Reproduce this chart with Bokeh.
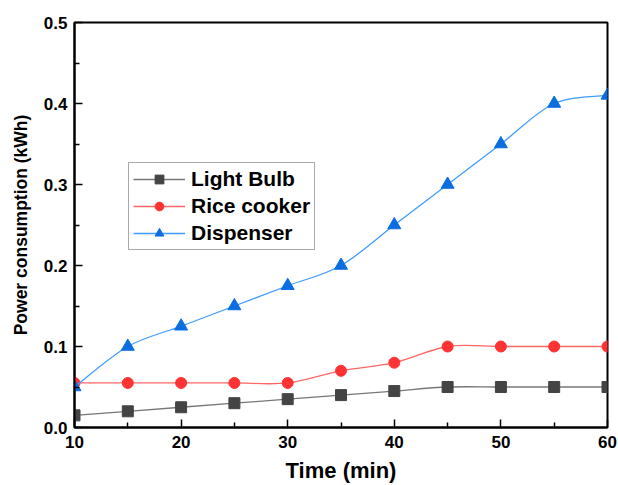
from bokeh.plotting import figure
from bokeh.models import Range1d, Legend, LegendItem, FixedTicker
from bokeh.embed import file_html
from bokeh.resources import INLINE

time_min = [10, 15, 20, 25, 30, 35, 40, 45, 50, 55, 60]
light_bulb = [0.015, 0.02, 0.025, 0.03, 0.035, 0.04, 0.045, 0.05, 0.05, 0.05, 0.05]
rice_cooker = [0.055, 0.055, 0.055, 0.055, 0.055, 0.07, 0.08, 0.1, 0.1, 0.1, 0.1]
dispenser = [0.05, 0.1, 0.125, 0.15, 0.175, 0.2, 0.25, 0.3, 0.35, 0.4, 0.41]
x_ticks = [10, 20, 30, 40, 50, 60]
y_ticks = [0.0, 0.1, 0.2, 0.3, 0.4, 0.5]

FONT = "Liberation Sans"

p = figure(width=618, height=485, output_backend="svg", toolbar_location=None,
           x_range=Range1d(10, 60), y_range=Range1d(0, 0.5),
           min_border_left=74, min_border_right=11, min_border_top=22, min_border_bottom=57)
p.grid.visible = False
p.outline_line_color = "black"
p.outline_line_width = 2
p.background_fill_color = "white"
p.border_fill_color = "white"


def smooth(xs, ys):
    n = len(xs)
    x0, y0, x1, y1, cx0, cy0, cx1, cy1 = [], [], [], [], [], [], [], []
    for i in range(n - 1):
        im = max(i - 1, 0)
        ip = min(i + 2, n - 1)
        x0.append(xs[i]); y0.append(ys[i])
        x1.append(xs[i + 1]); y1.append(ys[i + 1])
        cx0.append(xs[i] + (xs[i + 1] - xs[im]) / 6.0)
        cy0.append(ys[i] + (ys[i + 1] - ys[im]) / 6.0)
        cx1.append(xs[i + 1] - (xs[ip] - xs[i]) / 6.0)
        cy1.append(ys[i + 1] - (ys[ip] - ys[i]) / 6.0)
    return dict(x0=x0, y0=y0, x1=x1, y1=y1, cx0=cx0, cy0=cy0, cx1=cx1, cy1=cy1)


series = [
    ("Light Bulb", light_bulb, "#777777", "#444444", "square", 11),
    ("Rice cooker", rice_cooker, "#ff6666", "#ff3333", "circle", 11),
    ("Dispenser", dispenser, "#3f9bff", "#0a6ee0", "triangle", 13),
]
items = []
for name, ys, lc, mc, marker, size in series:
    b = p.bezier(line_color=lc, line_width=1.3, **smooth(time_min, ys))
    s = p.scatter(time_min, ys, marker=marker, size=size, fill_color=mc, line_color=mc)
    items.append(LegendItem(label=name, renderers=[b, s]))

legend = Legend(items=items, location=(54, 177))
legend.label_text_font = FONT
legend.label_text_font_style = "bold"
legend.label_text_font_size = "21px"
legend.label_text_color = "black"
legend.border_line_color = "#555555"
legend.border_line_width = 1
legend.background_fill_alpha = 1
legend.glyph_width = 52
legend.glyph_height = 22
legend.label_height = 22
legend.spacing = 3
legend.padding = 4
legend.margin = 0
legend.label_standoff = 6
p.add_layout(legend, "center")

for ax in (p.xaxis[0], p.yaxis[0]):
    ax.axis_line_color = "black"
    ax.axis_line_width = 2
    ax.major_tick_in = 8
    ax.major_tick_out = 0
    ax.minor_tick_in = 5
    ax.minor_tick_out = 0
    ax.major_tick_line_width = 1.5
    ax.minor_tick_line_width = 1.5
    ax.major_label_text_font = FONT
    ax.major_label_text_font_style = "bold"
    ax.major_label_text_font_size = "17px"
    ax.major_label_text_color = "black"
    ax.axis_label_text_font = FONT
    ax.axis_label_text_font_style = "bold"
    ax.axis_label_text_color = "black"

p.xaxis[0].axis_label_text_font_size = "22px"
p.yaxis[0].axis_label_text_font_size = "17.5px"
p.xaxis[0].ticker = FixedTicker(ticks=x_ticks, minor_ticks=[15, 25, 35, 45, 55])
p.yaxis[0].ticker = FixedTicker(ticks=y_ticks, minor_ticks=[0.05, 0.15, 0.25, 0.35, 0.45])
p.xaxis[0].major_label_overrides = {t: str(t) for t in x_ticks}
p.yaxis[0].major_label_overrides = {t: "%.1f" % t for t in y_ticks}
p.xaxis[0].major_label_standoff = 8
p.yaxis[0].major_label_standoff = 7
p.xaxis.axis_label = "Time (min)"
p.yaxis.axis_label = "Power consumption (kWh)"
p.xaxis[0].axis_label_standoff = 7
p.yaxis[0].axis_label_standoff = 10

open("out.html", "w").write(file_html(p, INLINE))
